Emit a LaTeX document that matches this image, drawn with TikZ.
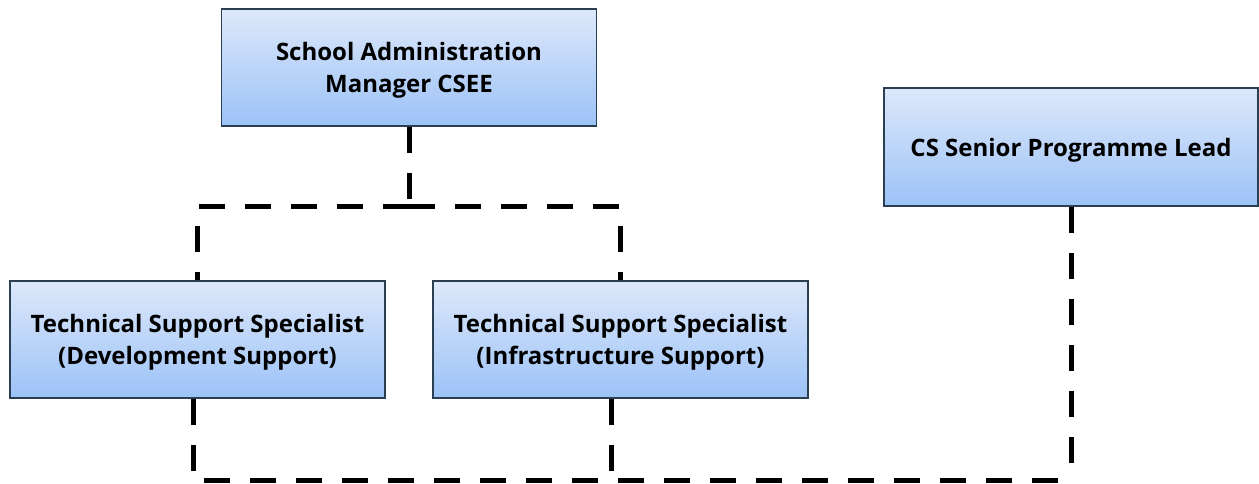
\documentclass[tikz,border=0pt]{standalone}
\usepackage{fontspec}
\setmainfont{Open Sans}
\usetikzlibrary{calc}
\definecolor{boxtop}{HTML}{DDE8FA}
\definecolor{boxbot}{HTML}{9CC2F7}
\definecolor{boxline}{HTML}{2B3F52}
\tikzset{
  role/.style={draw=boxline, line width=1.6bp, top color=boxtop, bottom color=boxbot,
    shading angle=0, minimum width=375bp, minimum height=117bp, inner sep=0pt},
  roletext/.style={align=center, inner sep=0pt, font=\fontsize{24bp}{32bp}\selectfont\bfseries},
  link/.style={line width=5bp, dash pattern=on 26bp off 20bp}
}
\begin{document}
\begin{tikzpicture}[x=1bp,y=-1bp]
\useasboundingbox[fill=white] (0,0) rectangle (1259,484);
\node[role] (A) at (409,67.5) {};
\node[roletext] (At) at ([yshift=-3bp]A.center) {School Administration\\Manager CSEE};
\node[role, minimum width=374bp, minimum height=118bp] (B) at (1071,147) {};
\node[roletext] (Bt) at ([yshift=-3bp]B.center) {CS Senior Programme Lead};
\node[role] (C) at (197.5,339.5) {};
\node[roletext] (Ct) at ([yshift=-3bp]C.center) {Technical Support Specialist\\(Development Support)};
\node[role] (D) at (620.5,339.5) {};
\node[roletext] (Dt) at ([yshift=-3bp]D.center) {Technical Support Specialist\\(Infrastructure Support)};
\coordinate (top) at (409,207);
\coordinate (bot) at (0,480);
\draw[link] (A.south) -- (top);
\draw[link] (top) -- (top -| C.north) -- (C.north);
\draw[link] (top) -- (top -| D.north) -- (D.north);
\draw[link] ([xshift=-4.5bp]C.south) -- ([xshift=-4.5bp]C.south |- bot) -- (B.south |- bot);
\draw[link] ([xshift=-9.5bp]D.south) -- ([xshift=-9.5bp]D.south |- bot);
\draw[link] (B.south) -- (B.south |- bot);
\end{tikzpicture}
\end{document}
